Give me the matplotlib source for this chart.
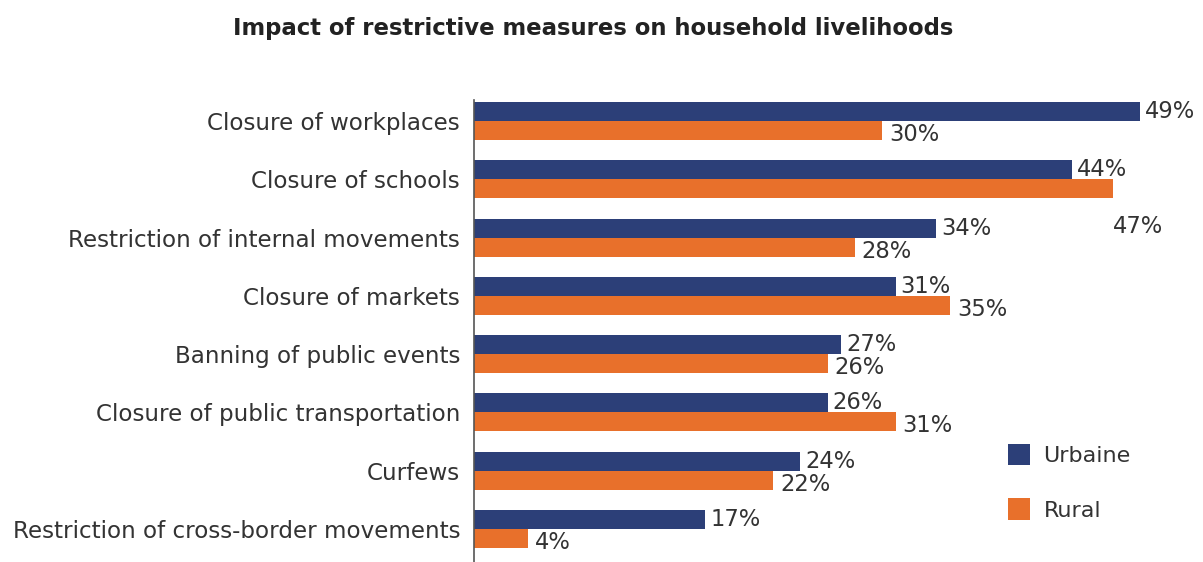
import matplotlib
matplotlib.use("Agg")
import matplotlib.pyplot as plt
import numpy as np

categories = [
    "Closure of workplaces",
    "Closure of schools",
    "Restriction of internal movements",
    "Closure of markets",
    "Banning of public events",
    "Closure of public transportation",
    "Curfews",
    "Restriction of cross-border movements",
]
urbaine = [49, 44, 34, 31, 27, 26, 24, 17]
rural = [30, 47, 28, 35, 26, 31, 22, 4]
series_names = ["Urbaine", "Rural"]

blue = "#2C3F78"
orange = "#E8702B"
txt = "#333333"

W, H = 1203, 562
fig = plt.figure(figsize=(W / 100, H / 100), dpi=100)
ax_left, ax_top, ax_bottom = 474, 100, 562
ax = fig.add_axes([ax_left / W, 1 - ax_bottom / H, 1 - ax_left / W, (ax_bottom - ax_top) / H])

y = np.arange(len(categories))
bh = 0.325
ax.barh(y - bh / 2, urbaine, height=bh, color=blue, label=series_names[0])
ax.barh(y + bh / 2, rural, height=bh, color=orange, label=series_names[1])

px_per = 13.6
ax.set_xlim(0, (W - ax_left) / px_per)
ax.set_ylim(7.566, -0.36)

fs = 16.3
for i, (u, r) in enumerate(zip(urbaine, rural)):
    ax.annotate(f"{u}%", (u, i - bh / 2), xytext=(5, 0), textcoords="offset pixels",
                va="center", ha="left", fontsize=fs, color=txt, annotation_clip=False)
    dy = -38 if i == 1 else -4
    dx = 0 if i == 1 else 7
    ax.annotate(f"{r}%", (r, i + bh / 2), xytext=(dx, dy), textcoords="offset pixels",
                va="center", ha="left", fontsize=fs, color=txt, annotation_clip=False)

ax.set_yticks(y)
ax.set_yticklabels(categories, fontsize=16.6, color=txt)
ax.tick_params(axis="y", length=0, pad=10)
ax.set_xticks([])
for s in ["top", "right", "bottom"]:
    ax.spines[s].set_visible(False)
ax.spines["left"].set_color("#555555")
ax.spines["left"].set_linewidth(1.2)

fig.text(593 / W, 1 - 28 / H, "Impact of restrictive measures on household livelihoods",
         ha="center", va="center", fontsize=16.4, fontweight="bold", color="#222222")

leg = fig.legend(loc="upper left", bbox_to_anchor=(988 / W, 1 - 424 / H), frameon=False,
                 fontsize=16, labelcolor=txt, handlelength=1.0, handleheight=1.1,
                 labelspacing=1.45, handletextpad=0.6)

fig.savefig("out.png", dpi=100, facecolor="white")
